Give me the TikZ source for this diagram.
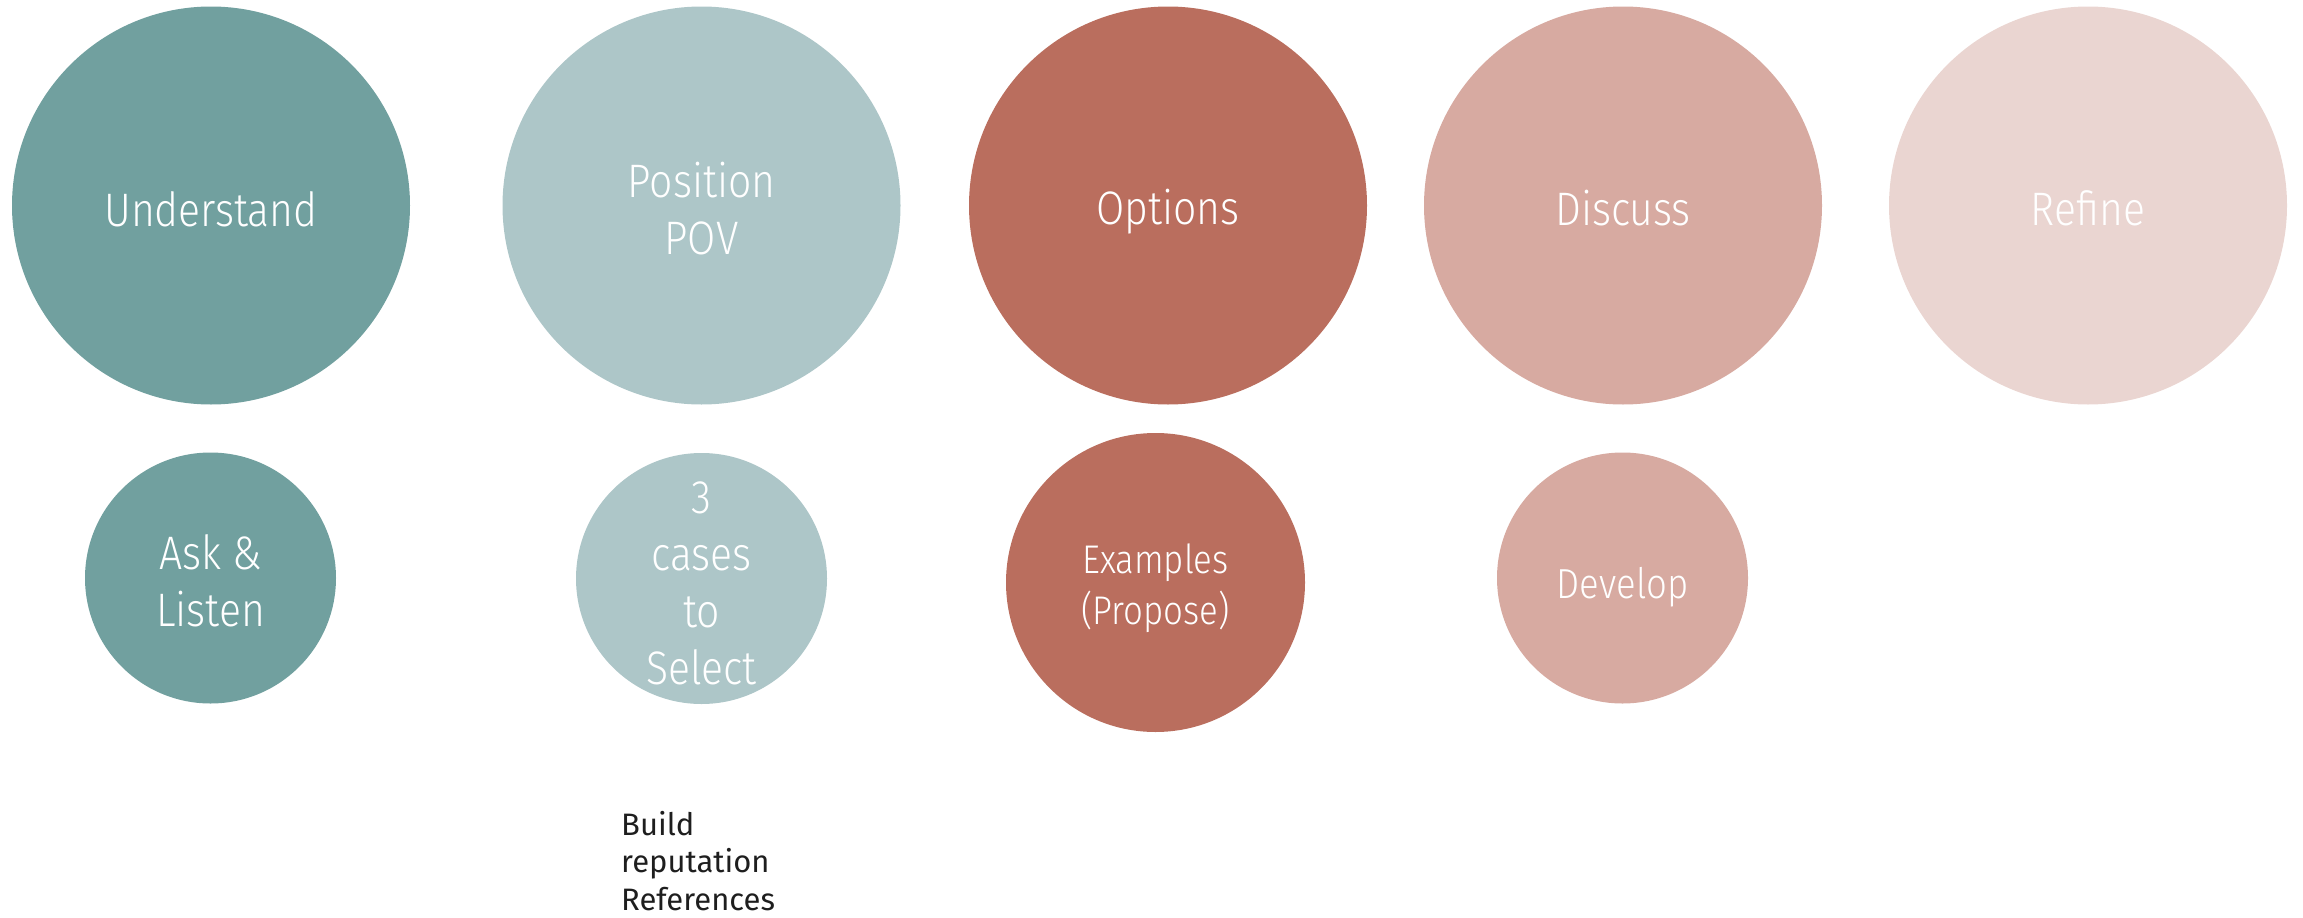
\documentclass[tikz,border=0pt]{standalone}
\usepackage{fontspec}
\setmainfont{Fira Sans}
\newfontfamily\cond[FakeStretch=0.87]{Fira Sans Light}
\definecolor{teal1}{HTML}{71A09F}
\definecolor{teal2}{HTML}{ADC6C8}
\definecolor{rust1}{HTML}{BA6E5E}
\definecolor{rose1}{HTML}{D7AAA1}
\definecolor{rose2}{HTML}{EAD5D1}
\definecolor{darktext}{HTML}{1E1E1E}
\begin{document}
\begin{tikzpicture}[x=1pt,y=-1pt]
\tikzset{
  bub/.style={circle, fill=#1, draw=none, inner sep=0pt},
  big/.style={minimum size=398pt},
  small/.style={minimum size=251pt},
  lbl/.style={inner sep=0pt, text=white, align=center,
    font=\cond\fontsize{47}{57}\selectfont},
  note/.style={inner sep=0pt, align=left, text=darktext, anchor=north west,
    font=\fontsize{31}{37.5}\selectfont}
}
\useasboundingbox (0,0) rectangle (2303,918);
\node[bub=teal1, big] (understand) at (211,205.5) {};
\node[bub=teal2, big] (position) at (701.5,205.5) {};
\node[bub=rust1, big] (options) at (1168,205.5) {};
\node[bub=rose1, big] (discuss) at (1623,205.5) {};
\node[bub=rose2, big] (refine) at (2088,205.5) {};
\node[bub=teal1, small] (ask) at (210.5,578) {};
\node[bub=teal2, small] (cases) at (701.5,578.5) {};
\node[bub=rust1, minimum size=299pt] (examples) at (1155.5,582.5) {};
\node[bub=rose1, small] (develop) at (1622.5,578) {};
\node[lbl, yshift=-3.5pt] (understand-t) at (understand) {Understand};
\node[lbl, yshift=-3pt] (position-t) at (position) {Position\\POV};
\node[lbl, yshift=-6pt] (options-t) at (options) {Options};
\node[lbl, yshift=-3pt] (discuss-t) at (discuss) {Discuss};
\node[lbl, yshift=-3pt] (refine-t) at (refine) {Refine};
\node[lbl, yshift=-3pt] (ask-t) at (ask) {Ask \&\\Listen};
\node[lbl, yshift=-4.5pt] (cases-t) at (cases) {3\\cases\\to\\Select};
\node[lbl, yshift=-6pt, font=\cond\fontsize{40}{51}\selectfont] (examples-t) at (examples) {Examples\\(Propose)};
\node[lbl, yshift=-9pt, font=\cond\fontsize{42}{51}\selectfont] (develop-t) at (develop) {Develop};
\node[note] (build) at (621,811) {Build\\reputation\\References};
\end{tikzpicture}
\end{document}
